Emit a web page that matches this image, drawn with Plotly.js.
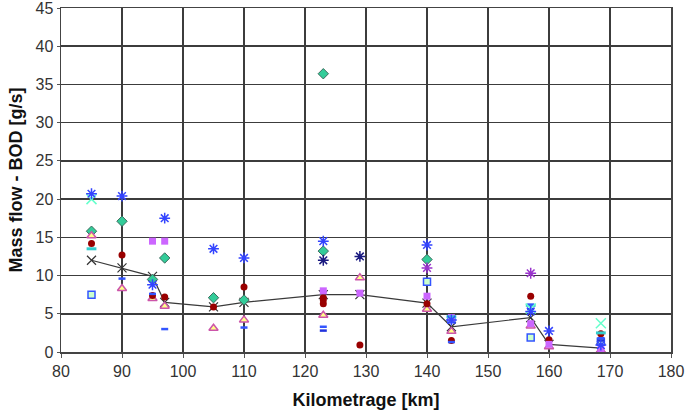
<!DOCTYPE html>
<html>
<head>
<meta charset="utf-8">
<script src="https://cdn.plot.ly/plotly-3.0.1.min.js"></script>
<style>html,body{margin:0;padding:0;background:#fff;}#chart{width:685px;height:410px;}</style>
</head>
<body>
<div id="chart"></div>
<script>
// Blue asterisk series
const astBlueX = [85, 90, 95, 97, 105, 110, 123, 140, 144, 157, 160, 168.5];
const astBlueY = [20.7, 20.4, 8.8, 17.5, 13.5, 12.3, 14.5, 14.0, 4.2, 5.3, 2.75, 0.9];
// Dark asterisk series
const astDarkX = [123, 129];
const astDarkY = [12.0, 12.5];
// Purple asterisk series
const astPurpleX = [140, 157];
const astPurpleY = [11.0, 10.3];
// Light green x series
const xGreenX = [85, 157, 168.5];
const xGreenY = [20.0, 5.7, 3.75];
// Green diamond series
const diamondX = [85, 90, 95, 97, 105, 110, 123, 123, 140];
const diamondY = [15.8, 17.1, 9.5, 12.3, 7.1, 6.8, 13.2, 36.4, 12.1];
// Triangle series
const triX = [85, 90, 95, 97, 105, 110, 123, 129, 140, 144, 157, 160, 168.5];
const triY = [15.2, 8.3, 7.0, 6.0, 3.1, 4.2, 4.8, 9.7, 5.6, 2.7, 3.4, 0.7, 0.2];
// Dark red circle series
const circX = [85, 90, 95, 97, 105, 110, 123, 123, 123, 129, 140, 144, 157, 160, 168.5];
const circY = [14.2, 12.7, 7.4, 7.2, 5.9, 8.5, 7.1, 6.8, 6.3, 0.9, 6.3, 1.5, 7.3, 1.6, 2.4];
// Cyan dash series
const cyanDashX = [85, 144, 157, 168.5];
const cyanDashY = [13.5, 4.6, 6.1, 2.5];
// Blue open square series
const sqBlueX = [85, 140, 144, 157, 168.5];
const sqBlueY = [7.5, 9.2, 4.3, 1.9, 1.35];
// Magenta square series
const sqMagX = [95, 97, 123, 129, 140, 144, 157, 160, 168.5];
const sqMagY = [14.5, 14.5, 8.0, 7.7, 7.3, 4.5, 3.7, 1.0, 0.3];
// Blue dash series
const dashBlueX = [90, 95, 97, 110, 123, 144, 157, 168.5];
const dashBlueY = [9.6, 7.6, 3.0, 3.2, 3.3, 1.3, 6.2, 1.8];
// Second blue dash series
const dashBlue2X = [123, 157, 168.5];
const dashBlue2Y = [2.8, 5.6, 1.5];
// Mean line
const meanX = [85, 90, 95, 97, 105, 110, 123, 129, 140, 144, 157, 160, 168.5];
const meanY = [12.0, 11.0, 9.9, 6.5, 5.9, 6.5, 7.5, 7.5, 6.4, 3.3, 4.5, 1.0, 0.5];

const traces = [
  {x: meanX, y: meanY, mode: 'lines+markers', line: {color: '#3a3a3a', width: 1.2},
   marker: {symbol: 'x-thin-open', size: 9, color: '#333', line: {color: '#333', width: 1.2}}},
  {x: sqBlueX, y: sqBlueY, mode: 'markers', marker: {symbol: 'square', size: 7, color: '#ccffcc', line: {color: '#3355ff', width: 1.5}}},
  {x: diamondX, y: diamondY, mode: 'markers', marker: {symbol: 'diamond', size: 8, color: '#33cc99', line: {color: '#3d6b5e', width: 1}}},
  {x: triX, y: triY, mode: 'markers', marker: {symbol: 'triangle-up', size: 8, color: '#ffff88', line: {color: '#cc55aa', width: 1.5}}},
  {x: circX, y: circY, mode: 'markers', marker: {symbol: 'circle', size: 7, color: '#990000'}},
  {x: sqMagX, y: sqMagY, mode: 'markers', marker: {symbol: 'square', size: 7, color: '#cc66ff'}},
  {x: cyanDashX, y: cyanDashY, mode: 'markers', marker: {symbol: 'line-ew-open', size: 7, color: '#33cccc', line: {color: '#33cccc', width: 3}}},
  {x: dashBlueX, y: dashBlueY, mode: 'markers', marker: {symbol: 'line-ew-open', size: 5, color: '#3355ff', line: {color: '#3355ff', width: 2.5}}},
  {x: dashBlue2X, y: dashBlue2Y, mode: 'markers', marker: {symbol: 'line-ew-open', size: 5, color: '#2233dd', line: {color: '#2233dd', width: 2.5}}},
  {x: xGreenX, y: xGreenY, mode: 'markers', marker: {symbol: 'x-thin-open', size: 10, color: '#66ffcc', line: {color: '#66ffcc', width: 1.5}}},
  {x: astBlueX, y: astBlueY, mode: 'markers', marker: {symbol: 'asterisk-open', size: 9, color: '#3344ff', line: {color: '#3344ff', width: 1.5}}},
  {x: astDarkX, y: astDarkY, mode: 'markers', marker: {symbol: 'asterisk-open', size: 9, color: '#1a1a80', line: {color: '#1a1a80', width: 1.5}}},
  {x: astPurpleX, y: astPurpleY, mode: 'markers', marker: {symbol: 'asterisk-open', size: 9, color: '#9933cc', line: {color: '#9933cc', width: 1.5}}}
];

const layout = {
  width: 685, height: 410,
  margin: {l: 61, r: 14, t: 8, b: 58},
  paper_bgcolor: '#fff', plot_bgcolor: '#fff',
  showlegend: false,
  font: {family: 'Liberation Sans, Arial, sans-serif', size: 16, color: '#333'},
  xaxis: {
    range: [80, 180], dtick: 10, tick0: 80, autorange: false,
    showgrid: true, gridcolor: '#3c3c3c', gridwidth: 1.5,
    showline: true, linecolor: '#444', linewidth: 1.5, mirror: true,
    ticks: 'outside', ticklen: 4, tickcolor: '#555',
    zeroline: false, automargin: false, ticklabeloverflow: 'allow',
    tickfont: {size: 16, color: '#333'},
    title: {text: '<b>Kilometrage [km]</b>', font: {size: 18, color: '#111'}, standoff: 14}
  },
  yaxis: {
    range: [0, 45], dtick: 5, tick0: 0, autorange: false,
    showgrid: true, gridcolor: '#3c3c3c', gridwidth: 1.5,
    showline: true, linecolor: '#444', linewidth: 1.5, mirror: true,
    ticks: 'outside', ticklen: 3, tickcolor: '#555',
    zeroline: false, automargin: false, ticklabeloverflow: 'allow',
    tickfont: {size: 16, color: '#333'},
    title: {text: '<b>Mass flow - BOD [g/s]</b>', font: {size: 18, color: '#111'}, standoff: 8}
  }
};

Plotly.newPlot('chart', traces, layout, {staticPlot: true, displayModeBar: false});
</script>
</body>
</html>
